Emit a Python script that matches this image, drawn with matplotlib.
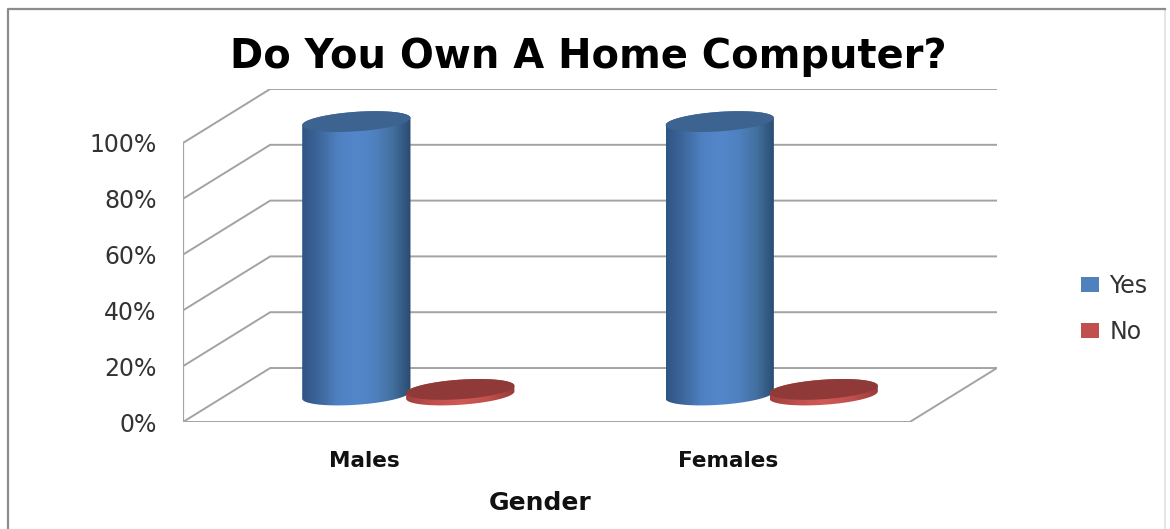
import numpy as np
import matplotlib
matplotlib.use("Agg")
import matplotlib.pyplot as plt
from matplotlib.colors import LinearSegmentedColormap
from matplotlib.patches import Patch, Polygon, Rectangle

# === DATA ===
categories = ["Males", "Females"]
series_names = ["Yes", "No"]
yes_values = [98, 98]
no_values = [2, 2]
percent_ticks = [0, 20, 40, 60, 80, 100]

# === STYLE ===
W, H = 1170, 529
GRID = "#a3a3a3"
DEPTH_X, DEPTH_Y = 0.24, 19.35   # shift of the back wall, in axis units
HALF_W, HALF_H, TILT = 0.149, 3.5, 1.3  # cylinder ellipse
OFFSET = 0.143

blue_map = LinearSegmentedColormap.from_list(
    "blue", ["#2f5583", "#3e689e", "#4f81c2", "#5387ca", "#4f81c0", "#42709f", "#2b4a70"])
red_map = LinearSegmentedColormap.from_list(
    "red", ["#a03f3c", "#c0504d", "#cf5a56", "#c0504d", "#983a38"])
BLUE_TOP = "#3d6391"
RED_TOP = "#8f3a38"

plt.rcParams["font.family"] = ["DejaVu Sans"]

fig = plt.figure(figsize=(W / 100, H / 100), dpi=100)
fig.patch.set_facecolor("white")
ax = fig.add_axes([183 / W, 1 - 422 / H, (997 - 183) / W, (422 - 89) / H])
ax.patch.set_visible(False)
for side in ax.spines.values():
    side.set_visible(False)


def ellipse(cx, cy, start, stop):
    t = np.linspace(start, stop, 60)
    return cx + HALF_W * np.cos(t), cy + HALF_H * np.sin(t) + TILT * np.cos(t)


def cylinder(x, value, cmap, top_color):
    cx = x + DEPTH_X / 2
    base = DEPTH_Y / 2
    bx, by = ellipse(cx, base, np.pi, 2 * np.pi)
    tx, ty = ellipse(cx, base + value, 0, np.pi)
    body = Polygon(np.column_stack([np.r_[bx, tx], np.r_[by, ty]]), closed=True,
                   facecolor="none", edgecolor="none", zorder=3)
    ax.add_patch(body)
    grad = np.linspace(0, 1, 256).reshape(1, -1)
    img = ax.imshow(grad, cmap=cmap, aspect="auto", zorder=3,
                    extent=[cx - HALF_W, cx + HALF_W, 0, 100 + DEPTH_Y])
    img.set_clip_path(body)
    fx, fy = ellipse(cx, base + value, 0, 2 * np.pi)
    ax.fill(fx, fy, color=top_color, zorder=4, lw=0)


# walls and floor
depth_x = [0, DEPTH_X, 2 + DEPTH_X]
for p in percent_ticks:
    ax.plot(depth_x, [p, p + DEPTH_Y, p + DEPTH_Y], color=GRID, lw=1.4, zorder=1)
ax.plot([0, 0], [0, 100], color=GRID, lw=1.6, zorder=1)
ax.plot([0, 2, 2 + DEPTH_X], [0, 0, DEPTH_Y], color=GRID, lw=1.4, zorder=1)

# bars
for i in range(len(categories)):
    cylinder(i + 0.5 - OFFSET, yes_values[i], blue_map, BLUE_TOP)
for i in range(len(categories)):
    cylinder(i + 0.5 + OFFSET, no_values[i], red_map, RED_TOP)
ax.set_xlim(0, 2 + DEPTH_X)
ax.set_ylim(0, 100 + DEPTH_Y)

# axes text
ax.set_yticks(percent_ticks)
ax.set_yticklabels([f"{p}%" for p in percent_ticks], fontsize=17, color="#333333")
ax.tick_params(axis="y", length=0, pad=19)
ax.set_xticks([0.5, 1.5])
ax.set_xticklabels(categories, fontsize=15.5, fontweight="bold", color="#111111")
ax.tick_params(axis="x", length=0, pad=21)

fig.text(588 / W, 1 - 57 / H, "Do You Own A Home Computer?", fontsize=28.8, fontweight="bold",
         ha="center", va="center", color="black")
fig.text(540 / W, 1 - 503 / H, "Gender", fontsize=18, fontweight="bold",
         ha="center", va="center", color="#111111")

handles = [Patch(facecolor="#4f81bd", label=series_names[0]),
           Patch(facecolor="#c0504d", label=series_names[1])]
fig.legend(handles=handles, loc="center left", bbox_to_anchor=(1060 / W, 1 - 309 / H), frameon=False,
           handlelength=0.75, handleheight=0.6, handletextpad=0.45, labelspacing=0.95,
           labelcolor="#333333", prop={"size": 17})

# chart border
fig.add_artist(Rectangle((8 / W, -0.02), (1165 - 8) / W, 1.02 - 9 / H, transform=fig.transFigure,
                         fill=False, edgecolor="#e0e0e0", lw=1.2))
fig.add_artist(plt.Line2D([8 / W, 8 / W, 1165 / W], [0, 1 - 9 / H, 1 - 9 / H],
                          color="#8c8c8c", lw=1.6))

plt.savefig("out.png", dpi=100)
plt.close()
